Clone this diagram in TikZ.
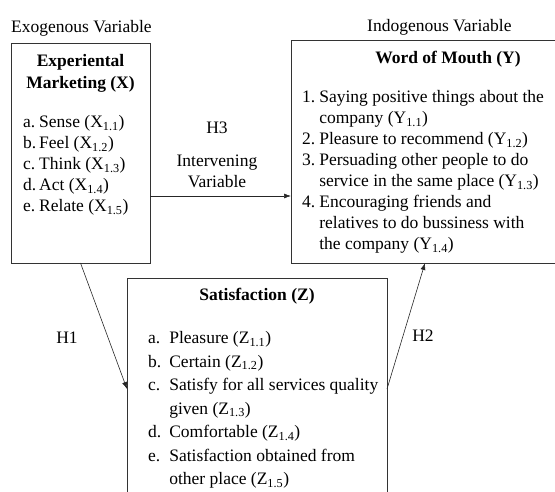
\documentclass[tikz,border=0pt]{standalone}
\usepackage{fontspec}
\setmainfont{Liberation Serif}[BoldFont={Liberation Serif Bold}]
\usetikzlibrary{arrows.meta,positioning}
\tikzstyle{varbox}=[
	rectangle,
	draw=black!80,
	line width=0.8pt,
	inner sep=0pt,
	outer sep=0pt,
	anchor=north west
]
\tikzstyle{plainlabel}=[
	inner sep=0pt,
	font=\fontsize{17.5}{21}\selectfont
]
\tikzstyle{boxtitle}=[
	plainlabel,
	align=center,
	font=\fontsize{17.5}{22}\selectfont\bfseries
]
\tikzstyle{itemlist}=[
	plainlabel,
	anchor=north west
]
\tikzstyle{hypothesis}=[
	-{Latex[length=7pt,width=5pt]},
	line width=0.6pt,
	draw=black!85
]

\begin{document}
\begin{tikzpicture}[x=1pt,y=-1pt]
\useasboundingbox (0,0) rectangle (555,491);
\clip (0,0) rectangle (555,491);
\node [varbox, minimum width=139pt, minimum height=220pt] (Marketing) at (11,43) {};
\node [varbox, minimum width=290pt, minimum height=223pt] (Mouth) at (291,40) {};
\node [varbox, minimum width=260pt, minimum height=222pt] (Satisfaction) at (127,278) {};
\node [plainlabel, anchor=south west] (Exogenous) at ([yshift=7pt]Marketing.north west) {Exogenous Variable};
\node [plainlabel, anchor=south west] (Indogenous) at ([xshift=76pt,yshift=5pt]Mouth.north west) {Indogenous Variable};
% titles
\node [boxtitle, anchor=north] (MarketingTitle) at ([yshift=-11pt]Marketing.north) {Experiental\\Marketing (X)};
\node [boxtitle, anchor=north] (MouthTitle) at ([xshift=12pt,yshift=-11pt]Mouth.north) {Word of Mouth (Y)};
\node [boxtitle, anchor=north] (SatisfactionTitle) at ([yshift=-10pt]Satisfaction.north) {Satisfaction (Z)};
% indicators
\node [itemlist] (MarketingItems) at (23,113) {%
	\begin{tabular}{@{}l@{\,}l@{}}
	a. & Sense (X\textsubscript{1.1})\\
	b. & Feel (X\textsubscript{1.2})\\
	c. & Think (X\textsubscript{1.3})\\
	d. & Act (X\textsubscript{1.4})\\
	e. & Relate (X\textsubscript{1.5})
	\end{tabular}};
\node [itemlist] (MouthItems) at (302,88) {%
	\begin{tabular}{@{}l@{\hspace{4pt}}l@{}}
	1. & Saying positive things about the\\
	   & company (Y\textsubscript{1.1})\\
	2. & Pleasure to recommend (Y\textsubscript{1.2})\\
	3. & Persuading other people to do\\
	   & service in the same place (Y\textsubscript{1.3})\\
	4. & Encouraging friends and\\
	   & relatives to do bussiness with\\
	   & the company (Y\textsubscript{1.4})
	\end{tabular}};
\node [itemlist, font=\fontsize{17.5}{23.5}\selectfont] (SatisfactionItems) at (148,327) {%
	\begin{tabular}{@{}l@{\hspace{8pt}}l@{}}
	a. & Pleasure (Z\textsubscript{1.1})\\
	b. & Certain (Z\textsubscript{1.2})\\
	c. & Satisfy for all services quality\\
	   & given (Z\textsubscript{1.3})\\
	d. & Comfortable (Z\textsubscript{1.4})\\
	e. & Satisfaction obtained from\\
	   & other place (Z\textsubscript{1.5})
	\end{tabular}};
% hypotheses
\coordinate (H3start) at ([yshift=-43pt]Marketing.east);
\draw [hypothesis] (H3start) -- (H3start -| Mouth.west);
\node [plainlabel] (H3) at (217,128) {H3};
\node [plainlabel, align=center] (Intervening) at (217,171) {Intervening\\Variable};
\draw [hypothesis] (Marketing.south) -- (Satisfaction.west);
\node [plainlabel] (H1) at (67,338) {H1};
\draw [hypothesis] (Satisfaction.east) -- ([xshift=-11pt]Mouth.south);
\node [plainlabel] (H2) at (423,336) {H2};
\end{tikzpicture}
\end{document}
